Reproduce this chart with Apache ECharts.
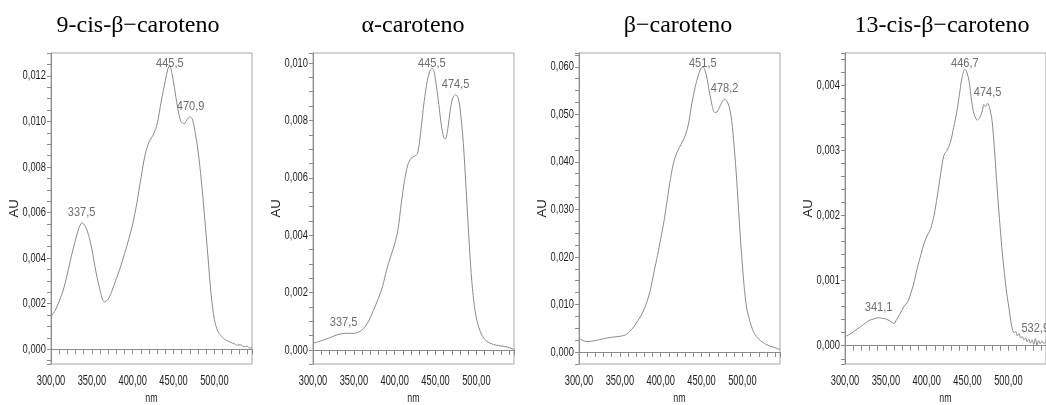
<!DOCTYPE html>
<html>
<head>
<meta charset="utf-8">
<script src="https://cdn.jsdelivr.net/npm/echarts@6/dist/echarts.min.js"></script>
<style>
  html, body { margin: 0; padding: 0; background: #fff; }
  #chart { width: 1046px; height: 405px; }
</style>
</head>
<body>
<div id="chart"></div>
<script>
// espectros UV-Vis (nm, AU)
const spec9cis = [
  [300, 0.00143], [305, 0.0017], [310, 0.0021], [315, 0.0026], [320, 0.0033],
  [325, 0.0041], [330, 0.0048], [334, 0.0053], [338, 0.00555], [342, 0.0054],
  [346, 0.0050], [350, 0.0044], [355, 0.0034], [360, 0.0026], [365, 0.00208],
  [370, 0.0022], [375, 0.0026], [380, 0.0031], [385, 0.0036], [390, 0.0042],
  [395, 0.0048], [400, 0.0055], [405, 0.0064], [410, 0.0075], [415, 0.0085],
  [420, 0.0091], [425, 0.0094], [430, 0.0099], [435, 0.0109], [440, 0.0118],
  [443, 0.0123], [445.5, 0.01245], [448, 0.0121], [451, 0.0115], [455, 0.0106],
  [459, 0.0100], [463, 0.0099], [467, 0.0101], [470, 0.0102], [473, 0.0101],
  [476, 0.0096], [480, 0.0087], [484, 0.0074], [488, 0.0058], [492, 0.0041],
  [496, 0.0024], [500, 0.0013], [504, 0.0008], [508, 0.0006], [512, 0.00045],
  [516, 0.00037], [520, 0.0003], [524, 0.00025], [528, 0.00018], [532, 0.0002],
  [536, 0.00012], [540, 0.00014], [543, 0.00005], [546, 0.00008]
];
const specAlpha = [
  [300, 0.00023], [310, 0.00032], [320, 0.00042], [330, 0.00053], [340, 0.00058],
  [350, 0.00058], [356, 0.00062], [362, 0.00075], [368, 0.0010], [374, 0.00138],
  [380, 0.0018], [385, 0.0022], [390, 0.00278], [395, 0.00325], [400, 0.0037],
  [404, 0.0042], [408, 0.0051], [412, 0.0059], [416, 0.00645], [420, 0.00668],
  [424, 0.00675], [428, 0.00685], [432, 0.00765], [436, 0.00865], [440, 0.0094],
  [443, 0.00972], [445.5, 0.00982], [448, 0.00972], [451, 0.0092], [454, 0.00855],
  [457, 0.00785], [460, 0.0074], [462, 0.00735], [465, 0.00772], [468, 0.00835],
  [471, 0.00878], [474.5, 0.0089], [478, 0.00875], [481, 0.00815], [484, 0.0072],
  [487, 0.0058], [490, 0.0043], [493, 0.0029], [496, 0.0019], [499, 0.00125],
  [503, 0.00078], [507, 0.0005], [512, 0.00032], [518, 0.00022], [524, 0.00017],
  [530, 0.00014], [535, 0.00012], [540, 0.00008], [546, 0.00002]
];
const specBeta = [
  [300, 0.0029], [305, 0.0024], [310, 0.0022], [320, 0.0024], [330, 0.0028],
  [340, 0.0031], [350, 0.0033], [357, 0.0036], [362, 0.0043], [367, 0.0053],
  [372, 0.0066], [377, 0.0080], [382, 0.0100], [387, 0.0128], [392, 0.0170],
  [396, 0.0203], [400, 0.0238], [404, 0.0275], [408, 0.0320], [412, 0.0365],
  [416, 0.0400], [420, 0.0420], [425, 0.0437], [430, 0.0455], [434, 0.0480],
  [438, 0.0522], [442, 0.0556], [446, 0.0582], [449, 0.0596], [451.5, 0.0600],
  [454, 0.0594], [457, 0.0573], [460, 0.0543], [463, 0.0518], [466, 0.0504],
  [469, 0.0505], [472, 0.0515], [475, 0.0526], [478.2, 0.0532], [481, 0.0528],
  [484, 0.0515], [487, 0.0485], [490, 0.0430], [493, 0.0362], [496, 0.0280],
  [499, 0.0205], [502, 0.0140], [505, 0.0095], [509, 0.0065], [513, 0.0045],
  [517, 0.0033], [522, 0.0024], [527, 0.0018], [533, 0.0013], [540, 0.0009],
  [546, 0.0005]
];
const spec13cis = [
  [300, 0.00014], [305, 0.00017], [310, 0.00021], [315, 0.00026], [320, 0.0003],
  [325, 0.00035], [330, 0.00039], [335, 0.00041], [341, 0.00043], [346, 0.00042],
  [350, 0.00041], [355, 0.00038], [360, 0.00034], [363, 0.0004], [367, 0.00048],
  [372, 0.0006], [377, 0.00068], [381, 0.00082], [385, 0.001], [389, 0.00122],
  [393, 0.0014], [397, 0.00158], [401, 0.0017], [405, 0.0018], [409, 0.002],
  [413, 0.0023], [417, 0.00263], [421, 0.00292], [425, 0.003], [429, 0.00312],
  [433, 0.00335], [437, 0.0036], [440, 0.00385], [443, 0.0041], [446.7, 0.00424],
  [449, 0.0042], [452, 0.00405], [455, 0.00375], [458, 0.00355], [462, 0.00346],
  [465, 0.0035], [468, 0.0036], [470, 0.0037], [472, 0.00367], [474.5, 0.00372],
  [477, 0.00365], [480, 0.00345], [483, 0.003], [486, 0.00245], [489, 0.00195],
  [492, 0.0015], [495, 0.00112], [498, 0.0008], [501, 0.00055], [504, 0.0003],
  [507, 0.0002], [509, 0.00022], [511, 0.00015], [513, 0.00019], [515, 0.00012],
  [517, 0.00014], [519, 0.00009], [521, 0.00012], [523, 0.00006], [525, 0.0001],
  [527, 0.00004], [529, 0.00009], [531, 0.00002], [533, 0.00011], [535, 0.00001],
  [537, 0.00008], [539, 0.00003], [541, 0.00007], [543, 0.00004], [546, 0.00006]
];

// maximos marcados
const peaks9cis = [[337.5, 0.00555], [445.5, 0.01245], [470.9, 0.0102]];
const peaksAlpha = [[337.5, 0.00058], [445.5, 0.00982], [474.5, 0.0089]];
const peaksBeta = [[451.5, 0.0600], [478.2, 0.0532]];
const peaks13cis = [[341.1, 0.00043], [446.7, 0.00424], [474.5, 0.00372], [532.9, 0.00011]];

// etiquetas de los ejes
const xTicks = [300, 350, 400, 450, 500];
const yTicks9cis = [0, 0.002, 0.004, 0.006, 0.008, 0.010, 0.012];
const yTicksAlpha = [0, 0.002, 0.004, 0.006, 0.008, 0.010];
const yTicksBeta = [0, 0.010, 0.020, 0.030, 0.040, 0.050, 0.060];
const yTicks13cis = [0, 0.001, 0.002, 0.003, 0.004];

const titles = ['9-cis-β\u2212caroteno', 'α-caroteno', 'β\u2212caroteno', '13-cis-β\u2212caroteno'];
const yMin = [-0.000645, -0.00049, -0.00252, -0.00028];
const yMax = [0.0130, 0.01035, 0.0629, 0.00449];
const ySplit = [7, 5, 6, 5];
const yMinorSplit = [4, 4, 4, 5];

const specs = [spec9cis, specAlpha, specBeta, spec13cis];
const peaks = [peaks9cis, peaksAlpha, peaksBeta, peaks13cis];
const yTicks = [yTicks9cis, yTicksAlpha, yTicksBeta, yTicks13cis];

// posicion de cada panel
const gridLeft = [51, 313, 579, 845];
const gridTop = 53, gridW = 201, gridH = 311;
const titleX = [138, 413, 678, 942];

const sans = "'Liberation Sans', Arial, sans-serif";
const axisGray = '#8c8c8c';
const textDark = '#1e1e1e';

function comma(v, d) {
    return v.toFixed(d).replace('.', ',');
}

const chart = echarts.init(document.getElementById('chart'));

chart.setOption({
    animation: false,
    title: titles.map((t, i) => ({
        text: t,
        left: titleX[i],
        top: 14,
        padding: 0,
        textAlign: 'center',
        textStyle: { fontFamily: "'Liberation Serif', 'DejaVu Serif', serif", fontSize: 24, fontWeight: 'normal', color: '#000' }
    })),
    grid: gridLeft.map(l => ({
        left: l, top: gridTop, width: gridW, height: gridH,
        show: true, borderColor: '#a6a6a6', borderWidth: 1, backgroundColor: 'transparent'
    })),
    xAxis: gridLeft.map((l, i) => ({
        type: 'value',
        gridIndex: i,
        min: 300,
        max: 546,
        interval: 50,
        axisLine: { show: true, lineStyle: { color: axisGray, width: 1 } },
        axisTick: { show: true, length: 5, lineStyle: { color: axisGray } },
        minorTick: { show: true, splitNumber: 5, length: 5, lineStyle: { color: axisGray } },
        splitLine: { show: false },
        axisLabel: { show: false }
    })),
    yAxis: gridLeft.map((l, i) => ({
        type: 'value',
        gridIndex: i,
        min: yMin[i],
        max: yMax[i],
        splitNumber: ySplit[i],
        name: 'AU',
        nameLocation: 'middle',
        nameGap: 30,
        nameMoveOverlap: false,
        nameTextStyle: { fontFamily: sans, fontSize: 13, color: textDark },
        axisLine: { show: true, lineStyle: { color: axisGray, width: 1 } },
        axisTick: { show: true, length: 4, lineStyle: { color: axisGray } },
        minorTick: { show: true, splitNumber: yMinorSplit[i], length: 4, lineStyle: { color: axisGray } },
        splitLine: { show: false },
        minorSplitLine: { show: false },
        axisLabel: { show: false }
    })),
    series: specs.map((s, i) => ({
        type: 'line',
        xAxisIndex: i,
        yAxisIndex: i,
        data: s,
        showSymbol: false,
        smooth: 0.3,
        silent: true,
        lineStyle: { color: '#8a8a8a', width: 1 }
    }))
});

// textos estrechos (tipo Arial Narrow) colocados con las escalas de cada panel
function narrowText(text, x, y, size, squeeze, color, align) {
    return {
        type: 'text',
        x: x,
        y: y,
        scaleX: squeeze,
        silent: true,
        z: 10,
        style: {
            text: text,
            fontSize: size,
            fontFamily: sans,
            font: size + 'px ' + sans,
            fill: color,
            textAlign: align,
            align: align,
            textVerticalAlign: 'middle',
            verticalAlign: 'middle'
        }
    };
}

const labels = [];
gridLeft.forEach((l, i) => {
    const grid = { gridIndex: i };
    xTicks.forEach(v => {
        const p = chart.convertToPixel(grid, [v, yMin[i]]);
        labels.push(narrowText(comma(v, 2), p[0], p[1] + 17, 15.5, 0.6, textDark, 'center'));
    });
    yTicks[i].forEach(v => {
        const p = chart.convertToPixel(grid, [300, v]);
        labels.push(narrowText(comma(v, 3), p[0] - 5, p[1], 13, 0.72, textDark, 'right'));
    });
    const mid = chart.convertToPixel(grid, [423, yMin[i]]);
    labels.push(narrowText('nm', mid[0], 398, 13, 0.68, textDark, 'center'));

    // la etiqueta del maximo no sale del recuadro
    peaks[i].forEach(d => {
        const p = chart.convertToPixel(grid, d);
        const cy = Math.max(p[1] - 10.5, gridTop + 10);
        labels.push(narrowText(comma(d[0], 1), p[0], cy, 13, 0.85, '#6e6e6e', 'center'));
    });
});

chart.setOption({ graphic: { elements: labels } });
</script>
</body>
</html>
